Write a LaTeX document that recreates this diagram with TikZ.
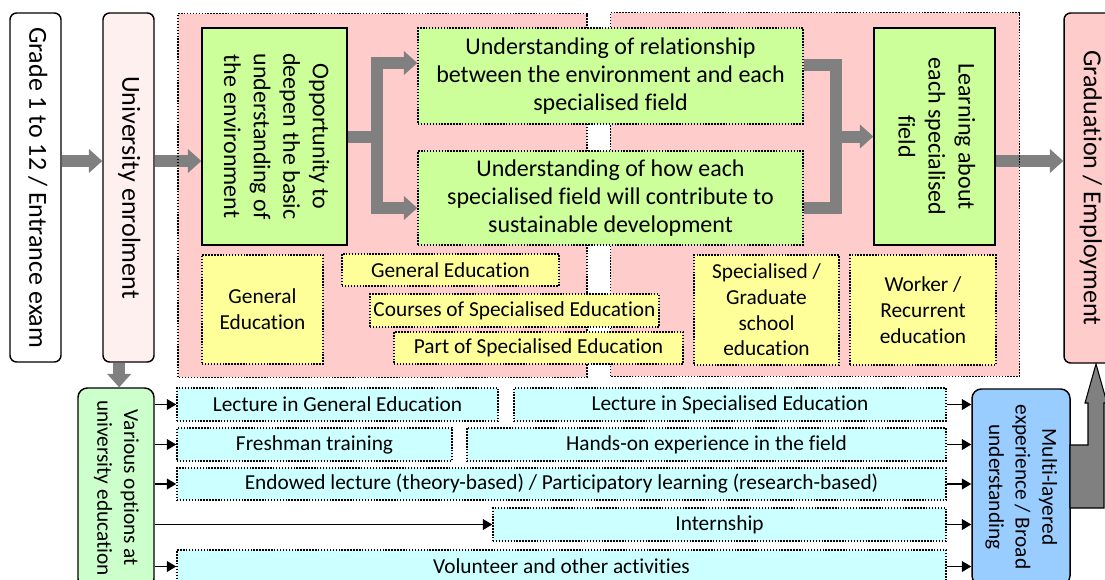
\documentclass[tikz,border=0pt]{standalone}
\usepackage{graphicx}
\usepackage{fontspec}
\setmainfont{Carlito}[Ligatures = NoCommon]
\usetikzlibrary{arrows.meta}

\definecolor{zonepink}{HTML}{FFCCCC}
\definecolor{palepink}{HTML}{FFF0F0}
\definecolor{leaf}{HTML}{CCFF99}
\definecolor{lemon}{HTML}{FFFF99}
\definecolor{aqua}{HTML}{CCFFFF}
\definecolor{mint}{HTML}{CCFFCC}
\definecolor{sky}{HTML}{99CCFF}
\definecolor{arrowgrey}{HTML}{808080}

\newcommand{\sidetext}[1]{\rotatebox{-90}{\begin{tabular}{@{}c@{}}#1\end{tabular}}}

\begin{document}
\begin{tikzpicture}[x = 0.75pt, y = -0.75pt,
	dots/.style = {draw, dash pattern = on 1.1pt off 1.1pt, line width = 1.1pt},
	zone/.style = {fill = zonepink, minimum width = 306.5pt, minimum height = 272.25pt, inner sep = 0pt},
	stage/.style = {draw, line width = 1.1pt, rounded corners = 5pt, minimum width = 38.25pt, minimum height = 261.75pt, inner sep = 0pt, font = \fontsize{19.5}{23}\selectfont},
	keybox/.style = {draw, line width = 1.1pt, fill = leaf, minimum height = 162.75pt, inner sep = 0pt, font = \fontsize{18}{22.2}\selectfont},
	aim/.style = {dots, fill = leaf, minimum width = 288.75pt, inner sep = 0pt, align = center, font = \fontsize{18}{21}\selectfont},
	course/.style = {dots, fill = lemon, inner sep = 0pt, align = center, font = \fontsize{16}{19.3}\selectfont},
	option/.style = {dots, fill = aqua, minimum height = 24.75pt, inner sep = 0pt, font = \fontsize{16}{19}\selectfont},
	wide/.style = {draw, line width = 1.1pt, rounded corners = 7pt, inner sep = 0pt, font = \fontsize{16}{20}\selectfont},
	fat/.style = {draw = arrowgrey, line width = 9pt},
	fatarrow/.style = {fat, -{Triangle[length = 10pt, width = 18pt, line width = 0pt]}},
	feed/.style = {line width = 1.1pt, -{Triangle[length = 7pt, width = 8pt]}}]
	\useasboundingbox (0,0) rectangle (1105,579);
	\clip (0,0) rectangle (1105,579);

	\node[zone] (lz) at (382.5,195.5) {};
	\node[zone] (rz) at (815,194.5) {};

	\node[stage, fill = white] (grade) at (35.5,187.5) {\sidetext{Grade 1 to 12 / Entrance exam}};
	\node[stage, fill = palepink] (uni) at (128.5,187.5) {\sidetext{University enrolment}};
	\node[stage, fill = zonepink, minimum width = 39pt, minimum height = 262.5pt] (grad) at (1090,188) {\sidetext{Graduation / Employment}};
	\node[keybox, minimum width = 108.75pt] (opp) at (274.5,136.5) {\sidetext{Opportunity to\\deepen the basic\\understanding of\\the environment}};
	\node[keybox, minimum width = 90.75pt, font = \fontsize{18}{22.5}\selectfont] (learn) at (934.5,136.5) {\sidetext{Learning about\\each specialised\\field}};

	\coordinate (main) at (0,161);
	\draw[fatarrow] (grade.east |- main) -- (uni.west |- main);
	\draw[fatarrow] (uni.east |- main) -- (opp.west |- main);
	\draw[fatarrow] (learn.east |- main) -- (grad.west |- main);
	\draw[dots] (lz.south west) rectangle (lz.north east);
	\draw[dots] (rz.south west) rectangle (rz.north east);

	\node[aim, minimum height = 72pt] (rel) at (610.5,76) {Understanding of relationship\\between the environment and each\\specialised field};
	\node[aim, minimum height = 70.5pt] (con) at (610.5,198) {Understanding of how each\\specialised field will contribute to\\sustainable development};

	\node[course, minimum width = 90.75pt, minimum height = 81.75pt] (ge1) at (262.5,309.5) {General\\Education};
	\node[course, minimum width = 162.75pt, minimum height = 24pt] (ge2) at (450.5,270) {General Education};
	\node[course, minimum width = 216.75pt, minimum height = 24.75pt] (cse) at (514.5,310.5) {Courses of Specialised Education};
	\node[course, minimum width = 216.75pt, minimum height = 24pt] (pse) at (538.5,348) {Part of Specialised Education};
	\node[course, minimum width = 108.75pt, minimum height = 82.5pt] (sge) at (766.5,310) {Specialised /\\Graduate\\school\\education};
	\node[course, minimum width = 109.5pt, minimum height = 82.5pt] (wre) at (923,310) {Worker /\\Recurrent\\education};

	\coordinate (fork) at (377,136.5);
	\coordinate (join) at (836,136.5);
	\draw[fat] (opp.east) -- (fork);
	\draw[fatarrow] (fork) |- ([yshift = 9.75pt]rel.west);
	\draw[fatarrow] (fork) |- ([yshift = -7.5pt]con.west);
	\draw[fat] ([yshift = 8.25pt]rel.east) -| (join);
	\draw[fat] ([yshift = -7.5pt]con.east) -| (join);
	\draw[fatarrow] (join) -- (learn.west);

	\node[wide, fill = mint, minimum width = 57pt, minimum height = 150pt] (opts) at (116,488) {\sidetext{Various options at\\university education}};
	\node[wide, fill = sky, minimum width = 73.5pt, minimum height = 147pt] (multi) at (1021,487) {\sidetext{Multi-layered\\experience / Broad\\understanding}};

	\node[option, minimum width = 240.75pt] (lge) at (337.5,404.5) {Lecture in General Education};
	\node[option, minimum width = 324pt] (lse) at (730,404.5) {Lecture in Specialised Education};
	\node[option, minimum width = 206.25pt] (fresh) at (314.5,444.5) {Freshman training};
	\node[option, minimum width = 359.25pt] (field) at (706.5,444.5) {Hands-on experience in the field};
	\node[option, minimum width = 576.75pt, minimum height = 24pt] (endow) at (561.5,484) {Endowed lecture (theory-based) / Participatory learning (research-based)};
	\node[option, minimum width = 339.75pt] (intern) at (719.5,524.5) {Internship};
	\node[option, minimum width = 576.75pt] (volun) at (561.5,566.5) {Volunteer and other activities};

	\coordinate (drop) at ([xshift = -7pt]uni.south);
	\draw[fatarrow] (drop) -- (drop |- opts.north);
	\foreach \b in {lge, fresh, endow, intern, volun}
		\draw[feed] (opts.east |- \b.west) -- (\b.west);
	\foreach \b in {lse, field, endow, intern, volun}
		\draw[feed] (\b.east) -- (\b.east -| multi.west);
	\filldraw[fill = arrowgrey, line width = 0.8pt] (1070,445) -- (1088,445) -- (1088,403) -- (1085,403) -- (1096,364) -- (1107,403) -- (1104,403) -- (1104,508) -- (1070,508) -- cycle;
\end{tikzpicture}
\end{document}
